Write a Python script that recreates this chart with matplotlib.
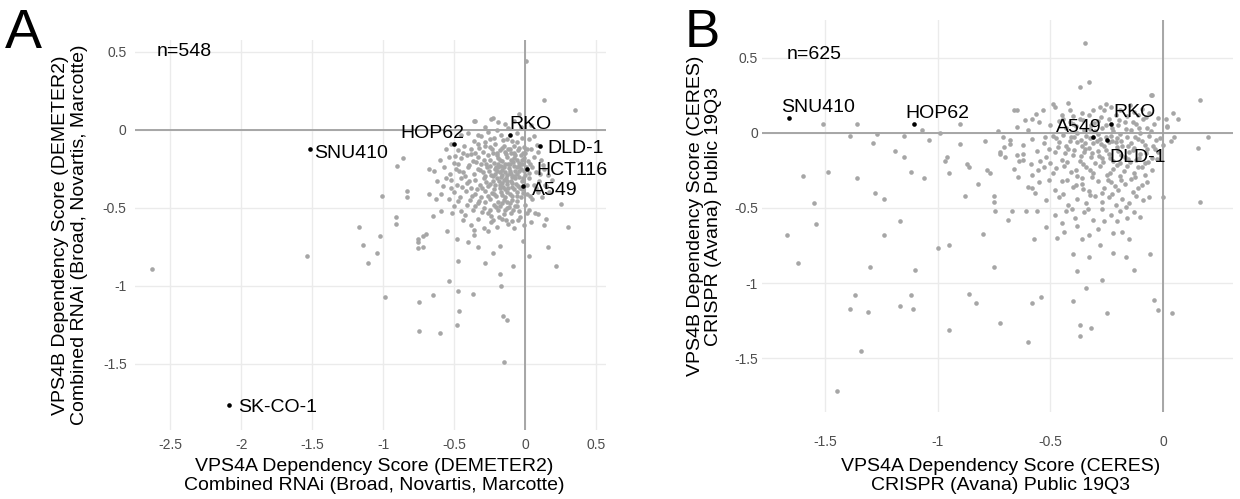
import matplotlib
matplotlib.use("Agg")
import matplotlib.pyplot as plt
from matplotlib.ticker import FixedLocator

plt.rcParams['font.family'] = ['Liberation Sans', 'DejaVu Sans']

# ---------------- Panel A data (DEMETER2) ----------------
a_outliers = [
    (-2.63, -0.89), (0.005, 0.44), (0.13, 0.19), (0.35, 0.13), (-0.04, 0.10), (-0.23, 0.08),
    (-0.36, 0.06), (-0.86, -0.18), (-0.90, -0.23), (-0.68, -0.25), (-1.01, -0.42), (-0.83, -0.39),
    (-0.83, -0.43), (-0.68, -0.41), (-0.63, -0.44), (-0.91, -0.555), (-0.91, -0.60), (-1.17, -0.62),
    (-1.02, -0.68), (-1.14, -0.74), (-1.045, -0.79), (-1.11, -0.85), (-0.99, -1.07), (-0.755, -0.70),
    (-0.755, -0.72), (-0.72, -0.68), (-0.70, -0.665), (-0.72, -0.75), (-0.755, -0.755), (-0.65, -0.55),
    (-0.59, -0.52), (-0.55, -0.65), (-0.75, -1.10), (-0.65, -1.06), (-0.54, -0.97), (-0.75, -1.29),
    (-0.60, -1.30), (-0.48, -1.25), (-0.465, -1.16), (-0.47, -1.03), (-0.47, -0.84), (-0.37, -1.05),
    (-0.155, -1.19), (-0.13, -1.22), (-0.15, -1.49), (-0.17, -1.00), (-0.18, -0.92), (-0.085, -0.87),
    (0.03, -0.81), (-0.014, -0.71), (-0.18, -0.745), (-0.225, -0.79), (-0.28, -0.85), (-0.33, -0.75),
    (-0.40, -0.72), (-0.48, -0.70), (-0.36, -0.67), (0.16, -0.75), (0.22, -0.87), (0.30, -0.62),
    (0.13, -0.61), (0.15, -0.57), (0.25, -0.475), (0.14, -0.35), (0.09, -0.54), (-1.535, -0.81),
]
a_cluster = [
    (-0.35, 0.06), (-0.24, 0.07), (-0.19, 0.05), (-0.14, 0.04), (-0.08, 0.06), (-0.03, 0.02), (0.04, 0.03),
    (-0.28, 0.02), (-0.12, 0.01), (-0.20, 0.00),
    (-0.45, -0.03), (-0.40, -0.02), (-0.31, -0.04), (-0.26, -0.01), (-0.22, -0.05), (-0.17, -0.03),
    (-0.13, -0.06), (-0.06, -0.02), (-0.02, -0.05), (0.03, -0.06), (0.06, -0.04), (-0.36, -0.07),
    (-0.09, -0.07), (-0.28, -0.08),
    (-0.56, -0.12), (-0.47, -0.13), (-0.43, -0.10), (-0.38, -0.12), (-0.33, -0.09), (-0.30, -0.14),
    (-0.25, -0.11), (-0.21, -0.09), (-0.18, -0.13), (-0.15, -0.10), (-0.12, -0.12), (-0.08, -0.10),
    (-0.05, -0.13), (-0.01, -0.11), (0.04, -0.12), (0.09, -0.14), (-0.35, -0.15), (-0.23, -0.15),
    (-0.10, -0.15), (0.00, -0.15), (-0.52, -0.09),
    (-0.60, -0.19), (-0.54, -0.17), (-0.50, -0.21), (-0.45, -0.18), (-0.41, -0.16), (-0.37, -0.20),
    (-0.33, -0.17), (-0.29, -0.19), (-0.26, -0.16), (-0.22, -0.21), (-0.19, -0.18), (-0.16, -0.20),
    (-0.13, -0.17), (-0.10, -0.19), (-0.07, -0.16), (-0.04, -0.21), (-0.01, -0.18), (0.02, -0.20),
    (0.06, -0.17), (0.11, -0.19), (-0.47, -0.22), (-0.31, -0.22), (-0.12, -0.22), (-0.20, -0.16),
    (-0.06, -0.19),
    (-0.64, -0.26), (-0.57, -0.24), (-0.53, -0.28), (-0.49, -0.25), (-0.44, -0.27), (-0.40, -0.24),
    (-0.36, -0.28), (-0.33, -0.25), (-0.30, -0.27), (-0.27, -0.24), (-0.24, -0.29), (-0.21, -0.25),
    (-0.18, -0.27), (-0.15, -0.24), (-0.13, -0.29), (-0.11, -0.26), (-0.08, -0.23), (-0.06, -0.28),
    (-0.03, -0.25), (0.00, -0.29), (0.05, -0.24), (0.08, -0.27), (0.13, -0.25), (0.16, -0.29),
    (-0.17, -0.30), (-0.09, -0.30), (-0.25, -0.23), (-0.14, -0.27), (-0.04, -0.23), (-0.19, -0.22),
    (-0.62, -0.33), (-0.58, -0.36), (-0.52, -0.32), (-0.48, -0.35), (-0.45, -0.31), (-0.41, -0.34),
    (-0.38, -0.37), (-0.35, -0.32), (-0.32, -0.35), (-0.29, -0.31), (-0.26, -0.36), (-0.23, -0.33),
    (-0.20, -0.31), (-0.18, -0.35), (-0.15, -0.32), (-0.12, -0.37), (-0.10, -0.33), (-0.07, -0.31),
    (-0.05, -0.36), (-0.02, -0.33), (0.03, -0.31), (0.06, -0.35), (0.10, -0.33), (0.15, -0.36),
    (0.19, -0.32), (-0.14, -0.38), (-0.22, -0.38), (-0.08, -0.38), (-0.34, -0.38), (-0.16, -0.34),
    (-0.59, -0.41), (-0.54, -0.44), (-0.50, -0.40), (-0.46, -0.43), (-0.42, -0.39), (-0.39, -0.45),
    (-0.35, -0.41), (-0.31, -0.43), (-0.28, -0.39), (-0.25, -0.44), (-0.22, -0.41), (-0.19, -0.46),
    (-0.17, -0.40), (-0.14, -0.43), (-0.11, -0.41), (-0.09, -0.45), (-0.06, -0.40), (-0.03, -0.43),
    (0.01, -0.41), (0.05, -0.44), (0.09, -0.40), (0.12, -0.43), (-0.13, -0.46), (-0.28, -0.46),
    (-0.50, -0.49), (-0.45, -0.52), (-0.41, -0.48), (-0.37, -0.51), (-0.33, -0.47), (-0.29, -0.50),
    (-0.26, -0.53), (-0.22, -0.48), (-0.19, -0.51), (-0.16, -0.47), (-0.13, -0.50), (-0.10, -0.53),
    (-0.07, -0.49), (-0.04, -0.52), (0.00, -0.48), (0.03, -0.51), (0.07, -0.53), (-0.15, -0.54),
    (-0.24, -0.55),
    (-0.44, -0.58), (-0.38, -0.61), (-0.33, -0.57), (-0.29, -0.63), (-0.24, -0.59), (-0.20, -0.62),
    (-0.16, -0.57), (-0.12, -0.60), (-0.08, -0.63), (-0.05, -0.58), (-0.01, -0.61), (0.04, -0.59),
    (-0.26, -0.65), (-0.36, -0.64),
    (-0.19, -0.24), (-0.16, -0.29), (-0.11, -0.22), (-0.07, -0.26), (-0.02, -0.22), (-0.09, -0.34),
    (-0.04, -0.30), (-0.13, -0.33), (-0.18, -0.37), (-0.06, -0.42), (-0.11, -0.47), (-0.02, -0.38),
    (-0.15, -0.45), (-0.08, -0.18), (-0.03, -0.16), (-0.14, -0.14), (-0.17, -0.23), (-0.01, -0.26),
    (-0.21, -0.28), (-0.10, -0.28),
]
a_core = [
    (-0.235, -0.125), (-0.195, -0.145), (-0.165, -0.115), (-0.135, -0.155), (-0.105, -0.125),
    (-0.075, -0.145), (-0.045, -0.115), (-0.015, -0.145), (0.015, -0.125),
    (-0.245, -0.195), (-0.205, -0.235), (-0.175, -0.195), (-0.145, -0.215), (-0.115, -0.245),
    (-0.085, -0.205), (-0.055, -0.235), (-0.025, -0.195), (0.005, -0.235), (0.035, -0.215),
    (-0.275, -0.215), (-0.345, -0.205), (-0.395, -0.225),
    (-0.255, -0.265), (-0.225, -0.295), (-0.195, -0.265), (-0.165, -0.255), (-0.135, -0.305),
    (-0.105, -0.275), (-0.075, -0.295), (-0.045, -0.265), (-0.015, -0.305), (0.025, -0.275),
    (-0.285, -0.295), (-0.315, -0.255), (-0.425, -0.295), (-0.465, -0.265),
    (-0.245, -0.345), (-0.215, -0.355), (-0.185, -0.325), (-0.155, -0.365), (-0.125, -0.345),
    (-0.095, -0.365), (-0.065, -0.345), (-0.035, -0.375), (0.015, -0.355), (-0.275, -0.335),
    (-0.305, -0.375), (-0.395, -0.325), (-0.445, -0.365),
    (-0.235, -0.405), (-0.205, -0.425), (-0.165, -0.415), (-0.125, -0.395), (-0.095, -0.425),
    (-0.055, -0.455), (-0.015, -0.405), (-0.265, -0.425), (-0.325, -0.455), (-0.375, -0.425),
    (0.035, -0.425),
    (-0.205, -0.495), (-0.175, -0.485), (-0.145, -0.515), (-0.115, -0.495), (-0.085, -0.515),
    (-0.055, -0.485), (-0.245, -0.515), (-0.305, -0.525), (-0.355, -0.485), (0.015, -0.535),
    (-0.185, -0.555), (-0.135, -0.575), (-0.095, -0.585), (-0.225, -0.575), (-0.035, -0.555),
    (-0.425, -0.545),
    (-0.325, -0.115), (-0.285, -0.105), (-0.385, -0.155), (-0.435, -0.145), (-0.495, -0.165),
    (-0.055, -0.075), (-0.155, -0.065), (-0.245, -0.055), (-0.335, -0.035), (0.085, -0.095),
    (0.125, -0.225), (0.105, -0.285), (0.165, -0.395), (0.075, -0.375), (-0.525, -0.375),
    (-0.555, -0.305), (-0.515, -0.535), (-0.475, -0.455),
]
a_names = ['SNU410', 'HOP62', 'RKO', 'DLD-1', 'HCT116', 'A549', 'SK-CO-1']
a_lab_x = [-1.52, -0.50, -0.11, 0.107, 0.014, -0.014, -2.09]
a_lab_y = [-0.12, -0.087, -0.03, -0.10, -0.25, -0.36, -1.76]

# ---------------- Panel B data (CERES) ----------------
b_outliers = [
    (-0.346, 0.60), (-0.33, 0.34), (-0.37, 0.305), (0.166, 0.22), (0.065, 0.095), (0.20, -0.03),
    (0.157, -0.097), (0.166, -0.46), (-0.054, 0.25), (0.02, 0.044), (0.047, -0.03), (0.0, -0.43),
    (-0.058, -0.805), (-0.04, -1.11), (-0.02, -1.18), (0.04, -1.20), (-0.25, -1.20), (-0.27, -0.98),
    (-0.13, -0.91), (-0.166, -0.83), (-0.22, -0.80), (-0.28, -0.745), (-0.18, -0.66), (-0.15, -0.71),
    (-0.33, -0.83), (-0.34, -1.03), (-0.38, -0.92), (-0.40, -0.805), (-0.40, -1.12), (-0.37, -1.28),
    (-0.37, -1.35), (-0.32, -1.30), (-0.54, -1.095), (-0.58, -1.13), (-0.60, -1.39), (-0.725, -1.265),
    (-0.86, -1.07), (-0.83, -1.13), (-0.95, -1.31), (-0.75, -0.89), (-0.80, -0.675), (-1.00, -0.77),
    (-0.95, -0.75), (-1.10, -0.91), (-1.17, -0.585), (-1.24, -0.68), (-1.30, -0.89), (-1.37, -1.08),
    (-1.39, -1.17), (-1.31, -1.19), (-1.17, -1.15), (-1.11, -1.17), (-1.12, -1.08), (-1.34, -1.45),
    (-1.45, -1.72), (-1.62, -0.87), (-1.67, -0.68), (-1.54, -0.61), (-1.55, -0.47), (-1.60, -0.285),
    (-1.49, -0.26), (-1.36, -0.30), (-1.28, -0.40), (-1.24, -0.44), (-1.51, 0.058), (-1.36, 0.058),
    (-1.39, -0.02), (-1.27, -0.01), (-1.29, -0.07), (-1.15, -0.02), (-1.12, -0.26), (-1.06, -0.30),
    (-1.07, 0.018), (-1.04, -0.05), (-1.19, -0.12), (-1.15, -0.16), (-0.99, 0.0), (-0.97, -0.19),
    (-0.96, -0.16), (-0.95, -0.27), (-0.90, 0.058), (-0.90, -0.075), (-0.88, -0.42), (-0.87, -0.21),
    (-0.86, -0.23), (-0.82, -0.34), (-0.79, -0.053), (-0.78, -0.25), (-0.77, -0.265), (-0.75, -0.42),
    (-0.75, -0.46), (-0.745, -0.52), (-0.725, -0.13), (-0.725, -0.14), (-0.71, -0.03), (-0.70, -0.16),
    (-0.68, -0.075), (-0.66, 0.15), (-0.67, -0.52), (-0.69, -0.58), (-0.65, 0.15), (-0.61, -0.52),
    (-0.575, -0.71), (-0.56, -0.52), (-0.58, -0.365), (-0.57, -0.40), (-0.65, -0.15), (-0.64, -0.19),
    (-0.62, -0.18), (-0.58, 0.095),
]
b_cluster = [
    (-0.49, 0.19), (-0.48, 0.17), (-0.42, 0.20), (-0.31, 0.15), (-0.28, 0.17), (-0.26, 0.15),
    (-0.23, 0.175), (-0.19, 0.15), (-0.13, 0.14), (-0.095, 0.16), (-0.05, 0.25), (-0.36, 0.13),
    (-0.40, 0.11), (-0.33, 0.12), (-0.21, 0.12), (-0.16, 0.11), (-0.11, 0.12), (-0.06, 0.13), (-0.45, 0.12),
    (-0.55, 0.07), (-0.50, 0.05), (-0.46, 0.08), (-0.43, 0.03), (-0.40, 0.06), (-0.37, 0.09),
    (-0.35, 0.02), (-0.32, 0.05), (-0.29, 0.08), (-0.27, 0.03), (-0.24, 0.09), (-0.20, 0.05),
    (-0.17, 0.07), (-0.14, 0.02), (-0.12, 0.06), (-0.09, 0.09), (-0.07, 0.03), (-0.04, 0.06),
    (-0.02, 0.10), (0.02, 0.04), (-0.38, 0.00), (-0.22, 0.01), (-0.10, 0.00), (-0.30, 0.01),
    (-0.60, 0.02), (-0.65, 0.04),
    (-0.58, -0.04), (-0.53, -0.07), (-0.49, -0.02), (-0.46, -0.06), (-0.43, -0.09), (-0.41, -0.03),
    (-0.38, -0.06), (-0.36, -0.09), (-0.34, -0.02), (-0.31, -0.07), (-0.28, -0.04), (-0.26, -0.09),
    (-0.23, -0.02), (-0.21, -0.06), (-0.18, -0.09), (-0.16, -0.03), (-0.14, -0.07), (-0.11, -0.04),
    (-0.08, -0.08), (-0.06, -0.02), (-0.03, -0.05), (0.00, -0.08), (-0.29, -0.01), (-0.19, -0.01),
    (-0.33, -0.10), (-0.24, -0.06), (-0.13, -0.10), (-0.62, -0.08), (-0.68, -0.05),
    (-0.62, -0.14), (-0.56, -0.12), (-0.52, -0.16), (-0.48, -0.13), (-0.45, -0.18), (-0.42, -0.11),
    (-0.40, -0.15), (-0.37, -0.19), (-0.35, -0.13), (-0.32, -0.16), (-0.29, -0.12), (-0.27, -0.17),
    (-0.24, -0.14), (-0.22, -0.19), (-0.20, -0.12), (-0.17, -0.16), (-0.15, -0.13), (-0.12, -0.18),
    (-0.10, -0.14), (-0.07, -0.11), (-0.05, -0.17), (-0.02, -0.13), (-0.30, -0.20), (-0.19, -0.20),
    (-0.08, -0.20), (-0.50, -0.20),
    (-0.66, -0.24), (-0.58, -0.28), (-0.53, -0.23), (-0.49, -0.27), (-0.44, -0.22), (-0.41, -0.26),
    (-0.38, -0.29), (-0.34, -0.23), (-0.31, -0.27), (-0.28, -0.22), (-0.25, -0.28), (-0.22, -0.24),
    (-0.19, -0.29), (-0.16, -0.22), (-0.13, -0.27), (-0.11, -0.23), (-0.08, -0.28), (-0.05, -0.25),
    (-0.36, -0.30),
    (-0.60, -0.36), (-0.55, -0.33), (-0.48, -0.38), (-0.45, -0.32), (-0.40, -0.36), (-0.36, -0.34),
    (-0.33, -0.39), (-0.29, -0.32), (-0.26, -0.37), (-0.23, -0.33), (-0.20, -0.38), (-0.17, -0.34),
    (-0.14, -0.31), (-0.11, -0.37), (-0.07, -0.33), (-0.27, -0.40),
    (-0.52, -0.45), (-0.46, -0.43), (-0.42, -0.48), (-0.38, -0.44), (-0.34, -0.47), (-0.30, -0.42),
    (-0.27, -0.46), (-0.24, -0.43), (-0.21, -0.48), (-0.18, -0.44), (-0.15, -0.47), (-0.12, -0.42),
    (-0.09, -0.45), (-0.06, -0.43),
    (-0.48, -0.55), (-0.43, -0.52), (-0.39, -0.57), (-0.35, -0.53), (-0.31, -0.58), (-0.27, -0.51),
    (-0.23, -0.55), (-0.19, -0.52), (-0.16, -0.57), (-0.13, -0.53), (-0.10, -0.56), (-0.26, -0.59),
    (-0.45, -0.60),
    (-0.52, -0.63), (-0.44, -0.66), (-0.38, -0.62), (-0.33, -0.68), (-0.29, -0.64), (-0.22, -0.67),
    (-0.47, -0.70), (-0.36, -0.71),
]
b_core = [
    (-0.445, 0.095), (-0.415, 0.075), (-0.385, 0.045), (-0.355, 0.085), (-0.325, 0.025),
    (-0.305, 0.065), (-0.275, 0.105), (-0.255, 0.055), (-0.225, 0.035), (-0.195, 0.085),
    (-0.165, 0.025), (-0.135, 0.075), (-0.105, 0.035), (-0.075, 0.105), (-0.055, 0.015),
    (-0.475, -0.035), (-0.445, -0.015), (-0.415, -0.055), (-0.395, -0.025), (-0.365, -0.045),
    (-0.345, -0.065), (-0.325, -0.035), (-0.295, -0.055), (-0.275, -0.075), (-0.255, -0.025),
    (-0.225, -0.055), (-0.205, -0.035), (-0.185, -0.055), (-0.155, -0.085), (-0.125, -0.025),
    (-0.095, -0.055), (-0.045, -0.085), (-0.015, -0.035),
    (-0.505, -0.105), (-0.465, -0.095), (-0.435, -0.135), (-0.395, -0.115), (-0.365, -0.155),
    (-0.345, -0.105), (-0.315, -0.135), (-0.285, -0.155), (-0.255, -0.115), (-0.235, -0.165),
    (-0.205, -0.095), (-0.185, -0.145), (-0.155, -0.175), (-0.135, -0.115), (-0.105, -0.165),
    (-0.075, -0.135), (-0.035, -0.105),
    (-0.545, -0.185), (-0.475, -0.235), (-0.425, -0.195), (-0.385, -0.245), (-0.355, -0.205),
    (-0.325, -0.245), (-0.265, -0.195), (-0.235, -0.265), (-0.205, -0.215), (-0.175, -0.255),
    (-0.145, -0.195), (-0.095, -0.225), (-0.065, -0.195),
    (-0.505, -0.315), (-0.425, -0.315), (-0.385, -0.345), (-0.315, -0.295), (-0.245, -0.315),
    (-0.185, -0.315), (-0.125, -0.295), (-0.095, -0.345), (-0.215, -0.355), (-0.355, -0.375),
    (-0.445, -0.405), (-0.325, -0.415), (-0.225, -0.405), (-0.135, -0.395), (-0.165, -0.495),
    (-0.335, -0.505), (-0.205, -0.585), (-0.405, -0.505),
    (-0.705, -0.095), (-0.735, 0.015), (-0.615, 0.085), (-0.565, 0.125), (-0.525, -0.025),
    (-0.585, -0.205), (-0.645, -0.295), (-0.555, -0.245), (-0.535, 0.155), (-0.415, 0.155),
    (-0.255, 0.195), (-0.145, 0.185), (0.035, -0.055), (0.015, 0.095), (-0.025, -0.175),
    (0.045, 0.135),
]
b_names = ['SNU410', 'HOP62', 'A549', 'RKO', 'DLD-1']
b_lab_x = [-1.66, -1.107, -0.313, -0.233, -0.249]
b_lab_y = [0.10, 0.062, -0.029, 0.062, -0.047]

a_yticks = [-1.5, -1.0, -0.5, 0.0, 0.5]
a_ytick_labels = ['-1.5', '-1', '-0.5', '0', '0.5']
a_xticks = [-2.5, -2.0, -1.5, -1.0, -0.5, 0.0, 0.5]
a_xtick_labels = ['-2.5', '-2', '-1.5', '-1', '-0.5', '0', '0.5']
b_xticks = [-1.5, -1.0, -0.5, 0.0]
b_xtick_labels = ['-1.5', '-1', '-0.5', '0']
b_yticks = [-1.5, -1.0, -0.5, 0.0, 0.5]
b_ytick_labels = ['-1.5', '-1', '-0.5', '0', '0.5']

GRAY_PT = '#a6a6a6'
GRID = '#ebebeb'
ZERO = '#a0a0a0'
TICKC = '#4d4d4d'
PT_SIZE = 11

fig = plt.figure(figsize=(12.4, 4.99), dpi=100)
axA = fig.add_axes([0.1089, 0.1383, 0.3798, 0.7816])
axB = fig.add_axes([0.6145, 0.1743, 0.3798, 0.7856])


def style(ax, xt, xl, yt, yl, xlim, ylim, xpad, ypad):
    ax.set_xlim(*xlim)
    ax.set_ylim(*ylim)
    ax.xaxis.set_major_locator(FixedLocator(xt))
    ax.yaxis.set_major_locator(FixedLocator(yt))
    ax.set_xticklabels(xl)
    ax.set_yticklabels(yl)
    ax.grid(True, color=GRID, linewidth=1.0, zorder=0)
    ax.set_axisbelow(True)
    for s in ax.spines.values():
        s.set_visible(False)
    ax.tick_params(axis='x', length=0, pad=xpad, labelsize=10, labelcolor=TICKC)
    ax.tick_params(axis='y', length=0, pad=ypad, labelsize=10, labelcolor=TICKC)
    ax.axhline(0, color=ZERO, linewidth=1.3, zorder=1)
    ax.axvline(0, color=ZERO, linewidth=1.3, zorder=1)


# Panel A
style(axA, a_xticks, a_xtick_labels, a_yticks, a_ytick_labels,
      (-2.75, 0.57), (-1.923, 0.577), 6, 6)
a_all = a_outliers + a_cluster + a_core
axA.scatter([p[0] for p in a_all], [p[1] for p in a_all],
            s=PT_SIZE, color=GRAY_PT, linewidths=0, zorder=2)
axA.scatter(a_lab_x, a_lab_y, s=PT_SIZE, color='black', linewidths=0, zorder=3)
a_offsets = {'SNU410': (3, -7, 'left'), 'HOP62': (7, 4.3, 'right'), 'RKO': (0, 4.3, 'left'),
             'DLD-1': (5, -5, 'left'), 'HCT116': (7, -4, 'left'), 'A549': (6.5, -6.7, 'left'),
             'SK-CO-1': (7, -5, 'left')}
for n, x, y in zip(a_names, a_lab_x, a_lab_y):
    dx, dy, ha = a_offsets[n]
    axA.annotate(n, (x, y), xytext=(dx, dy), textcoords='offset points', ha=ha, va='baseline',
                 fontsize=14, color='black', annotation_clip=False)
axA.text(-2.6, 0.5, 'n=548', fontsize=14, ha='left', va='center')

# Panel B
style(axB, b_xticks, b_xtick_labels, b_yticks, b_ytick_labels,
      (-1.782, 0.311), (-1.86, 0.753), 16.5, 3)
b_all = b_outliers + b_cluster + b_core
axB.scatter([p[0] for p in b_all], [p[1] for p in b_all],
            s=PT_SIZE, color=GRAY_PT, linewidths=0, zorder=2)
axB.scatter(b_lab_x, b_lab_y, s=PT_SIZE, color='black', linewidths=0, zorder=3)
b_offsets = {'SNU410': (-5.8, 4.1, 'left'), 'HOP62': (-5.8, 3.8, 'left'), 'A549': (6.5, 4.1, 'right'),
             'RKO': (2, 5, 'left'), 'DLD-1': (2, -16, 'left')}
for n, x, y in zip(b_names, b_lab_x, b_lab_y):
    dx, dy, ha = b_offsets[n]
    axB.annotate(n, (x, y), xytext=(dx, dy), textcoords='offset points', ha=ha, va='baseline',
                 fontsize=14, color='black', annotation_clip=False)
axB.text(-1.67, 0.52, 'n=625', fontsize=14, ha='left', va='center')

# Axis titles
fig.text(0.3016, 0.046, 'VPS4A Dependency Score (DEMETER2)\nCombined RNAi (Broad, Novartis, Marcotte)',
         ha='center', va='center', fontsize=14, linespacing=1.1)
fig.text(0.0565, 0.529, 'VPS4B Dependency Score (DEMETER2)\nCombined RNAi (Broad, Novartis, Marcotte)',
         ha='center', va='center', fontsize=14, rotation=90, linespacing=1.1)
fig.text(0.807, 0.046, 'VPS4A Dependency Score (CERES)\nCRISPR (Avana) Public 19Q3',
         ha='center', va='center', fontsize=14, linespacing=1.1)
fig.text(0.568, 0.567, 'VPS4B Dependency Score (CERES)\nCRISPR (Avana) Public 19Q3',
         ha='center', va='center', fontsize=14, rotation=90, linespacing=1.1)

# Panel letters
fig.text(0.004, 0.904, 'A', fontsize=40, ha='left', va='baseline')
fig.text(0.552, 0.905, 'B', fontsize=38, ha='left', va='baseline')

fig.savefig('out.png', dpi=100)
